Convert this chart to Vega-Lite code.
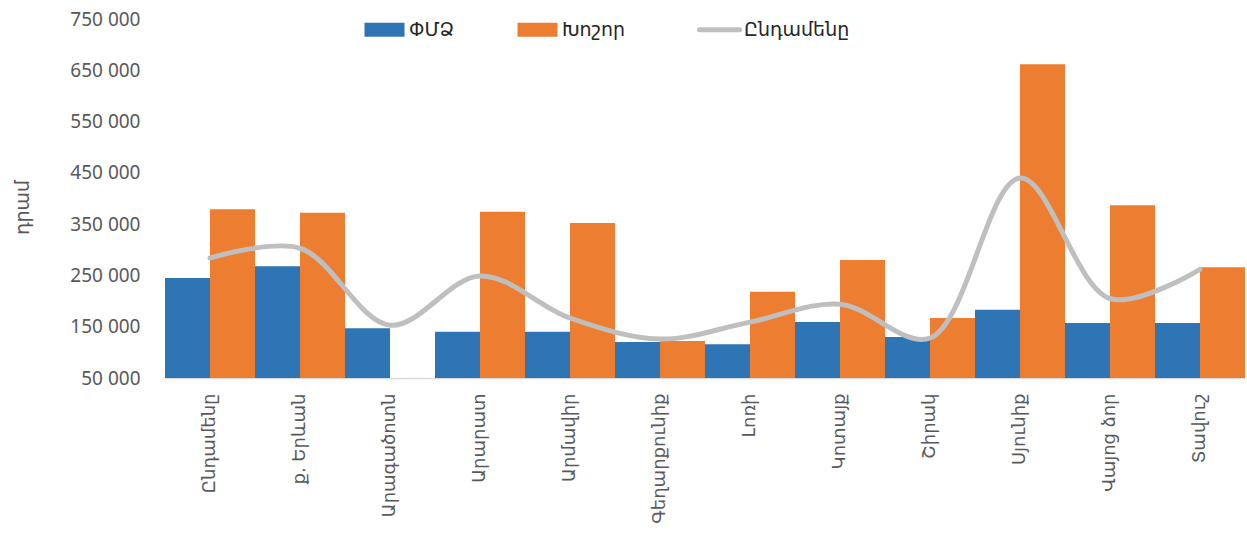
{
  "$schema": "https://vega.github.io/schema/vega-lite/v6.json",
  "width": 1080,
  "height": 359,
  "autosize": {"type": "none"},
  "padding": {"left": 165, "top": 19, "right": 2, "bottom": 176},
  "background": "white",
  "config": {"view": {"stroke": null}, "font": "Noto Sans, DejaVu Sans"},
  "data": {
    "values": [
      {"region": "Ընդամենը", "series": "ՓՄՁ", "value": 245000},
      {"region": "Ընդամենը", "series": "Խոշոր", "value": 379000},
      {"region": "Ընդամենը", "series": "Ընդամենը", "value": 284000},
      {"region": "ք. Երևան", "series": "ՓՄՁ", "value": 268000},
      {"region": "ք. Երևան", "series": "Խոշոր", "value": 372000},
      {"region": "ք. Երևան", "series": "Ընդամենը", "value": 303000},
      {"region": "Արագածոտն", "series": "ՓՄՁ", "value": 147000},
      {"region": "Արագածոտն", "series": "Ընդամենը", "value": 153000},
      {"region": "Արարատ", "series": "ՓՄՁ", "value": 140000},
      {"region": "Արարատ", "series": "Խոշոր", "value": 374000},
      {"region": "Արարատ", "series": "Ընդամենը", "value": 249000},
      {"region": "Արմավիր", "series": "ՓՄՁ", "value": 140000},
      {"region": "Արմավիր", "series": "Խոշոր", "value": 352000},
      {"region": "Արմավիր", "series": "Ընդամենը", "value": 167000},
      {"region": "Գեղարքունիք", "series": "ՓՄՁ", "value": 120000},
      {"region": "Գեղարքունիք", "series": "Խոշոր", "value": 122000},
      {"region": "Գեղարքունիք", "series": "Ընդամենը", "value": 126000},
      {"region": "Լոռի", "series": "ՓՄՁ", "value": 116000},
      {"region": "Լոռի", "series": "Խոշոր", "value": 218000},
      {"region": "Լոռի", "series": "Ընդամենը", "value": 159000},
      {"region": "Կոտայք", "series": "ՓՄՁ", "value": 159000},
      {"region": "Կոտայք", "series": "Խոշոր", "value": 280000},
      {"region": "Կոտայք", "series": "Ընդամենը", "value": 194000},
      {"region": "Շիրակ", "series": "ՓՄՁ", "value": 130000},
      {"region": "Շիրակ", "series": "Խոշոր", "value": 167000},
      {"region": "Շիրակ", "series": "Ընդամենը", "value": 128000},
      {"region": "Սյունիք", "series": "ՓՄՁ", "value": 183000},
      {"region": "Սյունիք", "series": "Խոշոր", "value": 662000},
      {"region": "Սյունիք", "series": "Ընդամենը", "value": 440000},
      {"region": "Վայոց ձոր", "series": "ՓՄՁ", "value": 157000},
      {"region": "Վայոց ձոր", "series": "Խոշոր", "value": 387000},
      {"region": "Վայոց ձոր", "series": "Ընդամենը", "value": 205000},
      {"region": "Տավուշ", "series": "ՓՄՁ", "value": 157000},
      {"region": "Տավուշ", "series": "Խոշոր", "value": 266000},
      {"region": "Տավուշ", "series": "Ընդամենը", "value": 262000}
    ]
  },
  "layer": [
    {
      "transform": [{"filter": "datum.series !== 'Ընդամենը'"}],
      "mark": {"type": "bar"},
      "encoding": {
        "x": {
          "field": "region",
          "type": "nominal",
          "sort": ["Ընդամենը", "ք. Երևան", "Արագածոտն", "Արարատ", "Արմավիր", "Գեղարքունիք", "Լոռի", "Կոտայք", "Շիրակ", "Սյունիք", "Վայոց ձոր", "Տավուշ"],
          "scale": {"paddingInner": 0, "paddingOuter": 0},
          "axis": {
            "title": null,
            "labelAngle": -90,
            "labelPadding": 15,
            "labelFontSize": 18,
            "labelColor": "#595959",
            "labelFont": "DejaVu Sans",
            "ticks": false,
            "domainColor": "#d9d9d9",
            "domainWidth": 1.5
          }
        },
        "xOffset": {"field": "series", "type": "nominal", "sort": ["ՓՄՁ", "Խոշոր"], "scale": {"paddingInner": 0, "paddingOuter": 0}},
        "y": {
          "field": "value",
          "type": "quantitative",
          "scale": {"domain": [50000, 750000], "zero": false, "nice": false},
          "axis": {
            "values": [50000, 150000, 250000, 350000, 450000, 550000, 650000, 750000],
            "labelExpr": "replace(format(datum.value, ','), /,/g, ' ')",
            "grid": false,
            "domain": false,
            "ticks": false,
            "labelPadding": 25,
            "labelFontSize": 19,
            "labelColor": "#595959",
            "title": "դրամ",
            "titleFont": "DejaVu Sans",
            "titleFontSize": 19,
            "titleFontWeight": "normal",
            "titleColor": "#595959",
            "titleX": -143,
            "titleY": 188,
            "titleAlign": "center",
            "titleBaseline": "middle"
          }
        },
        "y2": {"datum": 50000},
        "color": {
          "field": "series",
          "type": "nominal",
          "scale": {"domain": ["ՓՄՁ", "Խոշոր", "Ընդամենը"], "range": ["#2e75b6", "#ed7d31", "#bfbfbf"]},
          "legend": {
            "title": null,
            "orient": "none",
            "legendX": 210,
            "legendY": 1,
            "direction": "horizontal",
            "columnPadding": 63,
            "labelFontSize": 19,
            "labelFont": "DejaVu Sans",
            "labelColor": "#262626",
            "labelOffset": 15,
            "symbolSize": 1600,
            "symbolType": "M-1,-0.35L1,-0.35L1,0.35L-1,0.35Z",
            "encode": {
              "symbols": {
                "update": {
                  "shape": {"signal": "datum.value === 'Ընդամենը' ? 'M-1,0L1,0' : 'M-1,-0.35L1,-0.35L1,0.35L-1,0.35Z'"},
                  "fill": {"signal": "datum.value === 'Ընդամենը' ? 'transparent' : scale('color', datum.value)"},
                  "stroke": {"signal": "datum.value === 'Ընդամենը' ? '#bfbfbf' : 'transparent'"},
                  "strokeWidth": {"signal": "datum.value === 'Ընդամենը' ? 5 : 0"},
                  "strokeCap": {"value": "round"},
                  "opacity": {"value": 1}
                }
              }
            }
          }
        }
      }
    },
    {
      "transform": [{"filter": "datum.series === 'Ընդամենը'"}],
      "mark": {"type": "line", "interpolate": "catmull-rom", "strokeWidth": 5, "strokeCap": "round"},
      "encoding": {
        "x": {
          "field": "region",
          "type": "nominal",
          "sort": ["Ընդամենը", "ք. Երևան", "Արագածոտն", "Արարատ", "Արմավիր", "Գեղարքունիք", "Լոռի", "Կոտայք", "Շիրակ", "Սյունիք", "Վայոց ձոր", "Տավուշ"]
        },
        "y": {"field": "value", "type": "quantitative"},
        "color": {"field": "series", "type": "nominal"}
      }
    }
  ]
}
